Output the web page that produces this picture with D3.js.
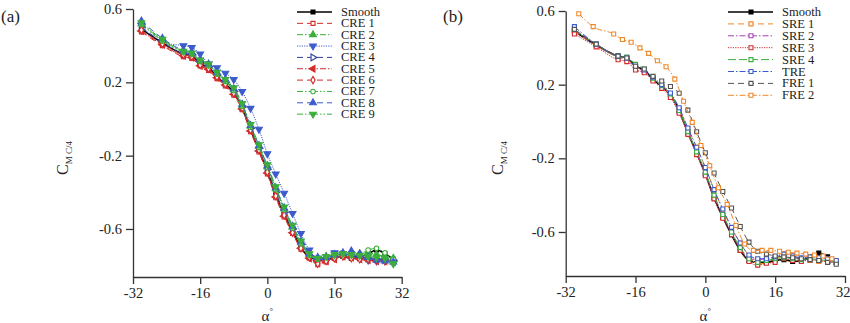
<!DOCTYPE html>
<html>
<head>
<meta charset="utf-8">
<script src="https://d3js.org/d3.v7.min.js"></script>
<style>
  body { margin: 0; background: #fff; }
  svg { display: block; font-family: "Liberation Serif", "DejaVu Serif", serif; }
  .axis path, .axis line { stroke: #333; stroke-width: 1.3px; }
  .axis text { font-family: "Liberation Serif", serif; font-size: 14.5px; fill: #222; }
</style>
</head>
<body>
<div id="chart"></div>
<script>
// angle of attack, degrees
const alpha = [-30, -25, -20, -18, -16, -14, -12, -10, -8, -6, -4, -2, 0, 2, 4, 6, 8, 10, 12, 14, 16, 18, 20, 22, 24, 26, 28, 30];
const alphaFre2 = [-29, -25.7, -21, -19, -17, -15, -13, -11, -9, -7, -5, -3, -1, 1, 3, 5, 7, 9, 11, 13, 15, 17, 19, 21, 23, 25, 27, 29];

const smooth = [0.49, 0.415, 0.355, 0.345, 0.30, 0.28, 0.23, 0.19, 0.145, 0.06, -0.06, -0.17, -0.285, -0.415, -0.52, -0.615, -0.70, -0.755, -0.765, -0.765, -0.755, -0.75, -0.76, -0.755, -0.735, -0.715, -0.735, -0.765];

// panel (a)
const cre1 = [0.475, 0.40, 0.34, 0.33, 0.29, 0.265, 0.22, 0.18, 0.13, 0.05, -0.07, -0.18, -0.30, -0.43, -0.535, -0.625, -0.71, -0.76, -0.795, -0.78, -0.76, -0.745, -0.755, -0.76, -0.765, -0.77, -0.77, -0.78];
const cre2 = [0.52, 0.43, 0.37, 0.36, 0.32, 0.295, 0.25, 0.21, 0.16, 0.075, -0.04, -0.15, -0.26, -0.38, -0.49, -0.59, -0.675, -0.74, -0.76, -0.75, -0.745, -0.74, -0.745, -0.735, -0.73, -0.74, -0.75, -0.76];
const cre3 = [0.51, 0.415, 0.40, 0.39, 0.355, 0.30, 0.28, 0.25, 0.215, 0.15, 0.058, -0.056, -0.19, -0.30, -0.405, -0.515, -0.625, -0.715, -0.76, -0.75, -0.73, -0.735, -0.74, -0.76, -0.77, -0.775, -0.775, -0.78];
const cre4 = [0.50, 0.42, 0.355, 0.35, 0.305, 0.285, 0.24, 0.20, 0.15, 0.065, -0.05, -0.16, -0.275, -0.40, -0.51, -0.60, -0.685, -0.745, -0.77, -0.765, -0.75, -0.74, -0.745, -0.755, -0.76, -0.765, -0.77, -0.775];
const cre5 = [0.48, 0.405, 0.345, 0.335, 0.29, 0.27, 0.225, 0.185, 0.135, 0.055, -0.065, -0.175, -0.295, -0.425, -0.53, -0.62, -0.705, -0.76, -0.775, -0.775, -0.765, -0.75, -0.755, -0.765, -0.77, -0.775, -0.775, -0.78];
const cre6 = [0.485, 0.41, 0.35, 0.34, 0.295, 0.275, 0.23, 0.19, 0.14, 0.06, -0.06, -0.17, -0.29, -0.42, -0.525, -0.62, -0.705, -0.755, -0.79, -0.775, -0.76, -0.75, -0.76, -0.765, -0.765, -0.77, -0.775, -0.78];
const cre7 = [0.515, 0.425, 0.365, 0.355, 0.315, 0.29, 0.245, 0.205, 0.155, 0.07, -0.045, -0.155, -0.265, -0.385, -0.495, -0.595, -0.68, -0.745, -0.765, -0.755, -0.745, -0.735, -0.74, -0.735, -0.715, -0.705, -0.73, -0.765];
const cre8 = [0.535, 0.44, 0.375, 0.365, 0.325, 0.30, 0.255, 0.215, 0.165, 0.08, -0.035, -0.145, -0.255, -0.375, -0.485, -0.585, -0.67, -0.735, -0.755, -0.755, -0.74, -0.73, -0.72, -0.735, -0.755, -0.77, -0.775, -0.78];
const cre9 = [0.525, 0.435, 0.37, 0.36, 0.32, 0.30, 0.255, 0.215, 0.17, 0.085, -0.03, -0.14, -0.25, -0.37, -0.48, -0.58, -0.665, -0.735, -0.76, -0.75, -0.74, -0.735, -0.74, -0.745, -0.75, -0.755, -0.76, -0.79];

// panel (b)
const sre1 = [0.49, 0.41, 0.35, 0.34, 0.295, 0.275, 0.23, 0.19, 0.145, 0.07, -0.04, -0.14, -0.25, -0.37, -0.48, -0.58, -0.66, -0.73, -0.775, -0.765, -0.74, -0.735, -0.745, -0.75, -0.755, -0.76, -0.76, -0.765];
const sre2 = [0.495, 0.415, 0.35, 0.335, 0.29, 0.275, 0.235, 0.19, 0.14, 0.05, -0.065, -0.175, -0.29, -0.41, -0.51, -0.605, -0.69, -0.745, -0.75, -0.745, -0.735, -0.72, -0.73, -0.745, -0.75, -0.755, -0.76, -0.765];
const sre3 = [0.475, 0.405, 0.335, 0.325, 0.28, 0.265, 0.22, 0.18, 0.13, 0.045, -0.07, -0.18, -0.295, -0.42, -0.525, -0.615, -0.70, -0.76, -0.78, -0.77, -0.765, -0.745, -0.755, -0.76, -0.75, -0.755, -0.76, -0.765];
const sre4 = [0.50, 0.42, 0.355, 0.35, 0.31, 0.285, 0.235, 0.195, 0.15, 0.06, -0.055, -0.165, -0.275, -0.40, -0.505, -0.60, -0.685, -0.745, -0.765, -0.755, -0.745, -0.74, -0.745, -0.75, -0.745, -0.75, -0.755, -0.765];
const tre = [0.515, 0.42, 0.355, 0.345, 0.30, 0.28, 0.24, 0.20, 0.155, 0.075, -0.035, -0.14, -0.25, -0.37, -0.475, -0.575, -0.66, -0.725, -0.745, -0.745, -0.735, -0.72, -0.73, -0.74, -0.735, -0.74, -0.745, -0.755];
const fre1 = [0.50, 0.42, 0.355, 0.345, 0.30, 0.285, 0.245, 0.22, 0.19, 0.153, 0.062, -0.056, -0.17, -0.28, -0.38, -0.47, -0.57, -0.655, -0.705, -0.72, -0.73, -0.735, -0.74, -0.745, -0.75, -0.755, -0.765, -0.775];
const fre2 = [0.585, 0.515, 0.475, 0.445, 0.43, 0.40, 0.37, 0.33, 0.297, 0.23, 0.11, -0.005, -0.13, -0.24, -0.36, -0.45, -0.565, -0.665, -0.70, -0.70, -0.70, -0.705, -0.71, -0.715, -0.72, -0.725, -0.73, -0.745];

const xTicks = [-32, -16, 0, 16, 32];
const yTicks = [0.6, 0.2, -0.2, -0.6];
const namesA = ["Smooth", "CRE 1", "CRE 2", "CRE 3", "CRE 4", "CRE 5", "CRE 6", "CRE 7", "CRE 8", "CRE 9"];
const namesB = ["Smooth", "SRE 1", "SRE 2", "SRE 3", "SRE 4", "TRE", "FRE 1", "FRE 2"];

const red = "#d42b2b", green = "#3bae3b", blue = "#3d5ccc", navy = "#2c3f9c",
      orange = "#f0882a", purple = "#a445b2", gray = "#555";
const solid = null, dashed = "6,4", dashDot = "6,2,1.5,2", dotted = "1.2,1.2", dashDot2 = "6,2,1.5,2,1.5,2";

// name, values, alphas, colour, dash, marker, filled
const seriesA = [
  [namesA[0], smooth, alpha, "#000", solid, "square", true],
  [namesA[1], cre1, alpha, red, dashed, "square", false],
  [namesA[2], cre2, alpha, green, dashDot, "up", true],
  [namesA[3], cre3, alpha, blue, dotted, "down", true],
  [namesA[4], cre4, alpha, navy, dashed, "right", false],
  [namesA[5], cre5, alpha, red, dashDot, "left", true],
  [namesA[6], cre6, alpha, red, dashed, "diamond", false],
  [namesA[7], cre7, alpha, green, dashDot2, "circle", false],
  [namesA[8], cre8, alpha, blue, dashed, "up", true],
  [namesA[9], cre9, alpha, green, dashDot2, "down", true]
];
const seriesB = [
  [namesB[0], smooth, alpha, "#000", solid, "square", true],
  [namesB[1], sre1, alpha, orange, dashed, "square", false],
  [namesB[2], sre2, alpha, purple, dashDot, "square", false],
  [namesB[3], sre3, alpha, red, dotted, "square", false],
  [namesB[4], sre4, alpha, green, "8,3", "square", false],
  [namesB[5], tre, alpha, blue, dashDot, "square", false],
  [namesB[6], fre1, alpha, gray, dashed, "square", false],
  [namesB[7], fre2, alphaFre2, orange, dashDot, "square", false]
];

const svg = d3.select("#chart").append("svg")
  .attr("width", 850).attr("height", 323);

function marker(g, type, x, y, color, filled) {
  var sym, rot = 0, size = 20;
  if (type == "square") { sym = d3.symbolSquare; size = 16; }
  else if (type == "diamond") { sym = d3.symbolDiamond; size = 16; }
  else if (type == "circle") { sym = d3.symbolCircle; size = 16; }
  else {
    sym = d3.symbolTriangle;
    rot = {up: 0, down: 180, right: 90, left: -90}[type];
  }
  g.append("path")
    .attr("d", d3.symbol().type(sym).size(size)())
    .attr("transform", "translate(" + x + "," + y + ") rotate(" + rot + ")")
    .attr("fill", filled ? color : "#fff")
    .attr("stroke", color)
    .attr("stroke-width", 1.1);
}

function drawPanel(p) {
  var x = d3.scaleLinear().domain([-32, 32]).range(p.xr);
  var y = d3.scaleLinear().domain(p.yd).range(p.yr);
  var g = svg.append("g");

  g.append("g").attr("class", "axis")
    .attr("transform", "translate(0," + p.yr[0] + ")")
    .call(d3.axisBottom(x).tickValues(xTicks).tickSize(7).tickSizeOuter(0).tickPadding(4)
      .tickFormat(d => d));
  g.append("g").attr("class", "axis")
    .attr("transform", "translate(" + p.xr[0] + ",0)")
    .call(d3.axisLeft(y).tickValues(yTicks).tickSize(7).tickSizeOuter(0).tickPadding(4)
      .tickFormat(d3.format(".1f")));
  g.selectAll(".axis text").text(function() { return this.textContent.replace("−", "-"); });

  var line = d3.line().curve(d3.curveMonotoneX);

  p.series.forEach(s => {
    var pts = s[1].map((v, i) => [x(s[2][i]), y(v)]);
    g.append("path")
      .attr("d", line(pts))
      .attr("fill", "none")
      .attr("stroke", s[3])
      .attr("stroke-width", s[0] == "Smooth" ? 1.6 : 1)
      .attr("stroke-dasharray", s[4]);
    pts.forEach(q => marker(g, s[5], q[0], q[1], s[3], s[6]));
  });

  // legend
  p.series.forEach((s, i) => {
    var ly = p.ly + i * p.lstep;
    g.append("line")
      .attr("x1", p.lx[0]).attr("x2", p.lx[1]).attr("y1", ly).attr("y2", ly)
      .attr("stroke", s[3]).attr("stroke-width", s[0] == "Smooth" ? 1.6 : 1)
      .attr("stroke-dasharray", s[4]);
    marker(g, s[5], p.lm, ly, s[3], s[6]);
    g.append("text")
      .attr("x", p.lx[1] + 9).attr("y", ly + 4)
      .attr("font-size", 12.5).attr("fill", "#222")
      .text(s[0]);
  });

  // axis titles
  var xt = g.append("text")
    .attr("x", (p.xr[0] + p.xr[1]) / 2).attr("y", 321)
    .attr("text-anchor", "middle").attr("font-size", 15).attr("fill", "#222");
  xt.append("tspan").text("α");
  xt.append("tspan").attr("font-size", 9).attr("dy", -7).text("°");

  var yt = g.append("text")
    .attr("transform", "translate(" + p.ylx + ",158) rotate(-90)")
    .attr("text-anchor", "middle").attr("fill", "#222").attr("font-size", 16);
  yt.append("tspan").text("C");
  yt.append("tspan").attr("font-size", 9).attr("dy", 4).text("M C/4");

  g.append("text")
    .attr("x", p.tag[0]).attr("y", 22)
    .attr("font-size", 17).attr("fill", "#222")
    .text(p.label);
  return g;
}

drawPanel({
  series: seriesA, label: "(a)", tag: [1, 22],
  xr: [133, 401.7], yd: [-0.862, 0.6], yr: [277, 9], ylx: 68,
  lx: [297, 332], lm: 313, ly: 12, lstep: 11.35
});
var gb = drawPanel({
  series: seriesB, label: "(b)", tag: [443, 22],
  xr: [565.7, 845], yd: [-0.839, 0.6], yr: [276, 11], ylx: 503,
  lx: [728, 773], lm: 751, ly: 12, lstep: 11.9
});
// keep the last tick label inside the picture
gb.selectAll(".axis text").filter(function() { return this.textContent == "32"; })
  .attr("text-anchor", "end").attr("x", 5);
</script>
</body>
</html>
